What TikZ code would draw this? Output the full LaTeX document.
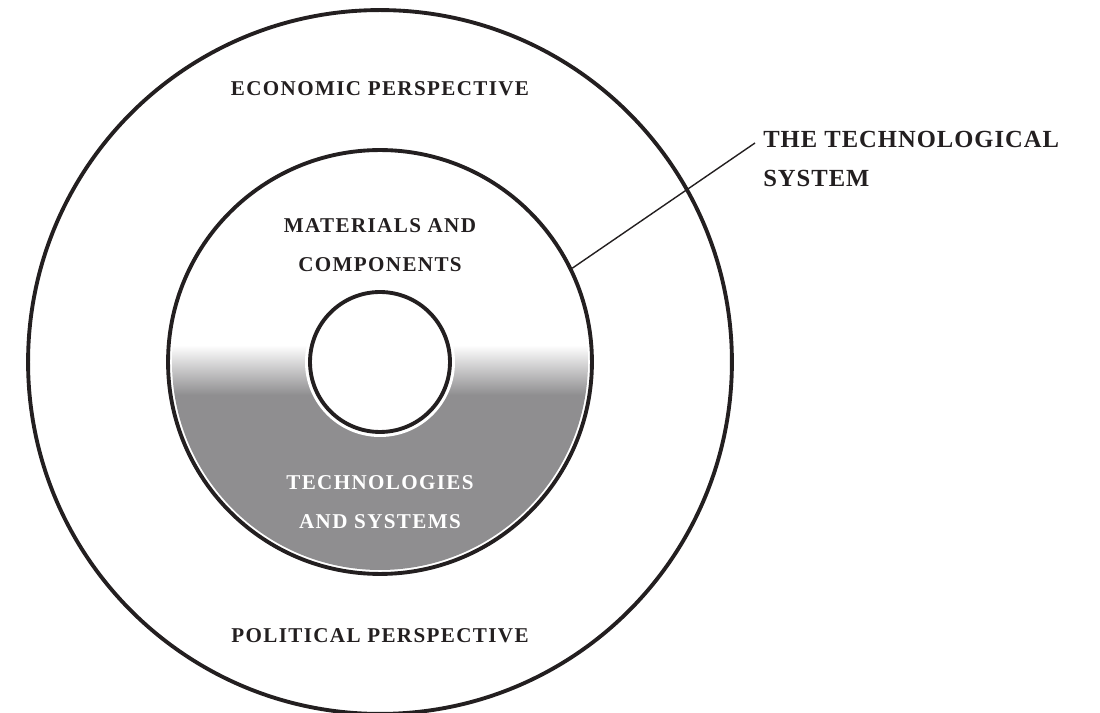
\documentclass[tikz,border=0pt]{standalone}
\usepackage{fontspec}
\setmainfont{Liberation Serif}
\newfontfamily\capsfont[LetterSpace=6.5]{Liberation Serif}
\newfontfamily\labelfont[LetterSpace=4]{Liberation Serif}
\usepackage{tikz}

\definecolor{inkblack}{RGB}{35,31,32}
\definecolor{discgrey}{RGB}{143,142,144}

\begin{document}
\begin{tikzpicture}[x=0.02cm, y=0.02cm,
  every ring/.style={circle, draw=inkblack, line width=2.2pt, inner sep=0pt},
  caps/.style={font=\capsfont\bfseries\fontsize{12}{22.7}\selectfont,
    text=inkblack, align=center, anchor=base},
  big caps/.style={font=\labelfont\bfseries\fontsize{14}{22.7}\selectfont,
    text=inkblack, align=left, anchor=base west, inner sep=0pt}]

\useasboundingbox (-380,-351) rectangle (720,362);

% grey lower half of the middle disc
\begin{scope}
  \clip (0,0) circle (208);
  \fill [discgrey] (-210,-210) rectangle (210,-33);
  \shade [top color=white, bottom color=discgrey] (-210,-33) rectangle (210,17);
\end{scope}
\fill [white] (0,0) circle (75);

\foreach \m/\d in {outer/14.08cm, middle/8.48cm, inner/2.8cm}
  \node [every ring/.try, minimum size=\d] (\m) at (0,0) {};

% base of a two-line node sits on its last line
\node [caps] (economic) at (0,266) {ECONOMIC PERSPECTIVE};
\node [caps] (political) at (0,-281) {POLITICAL PERSPECTIVE};
\node [caps] (materials) at (0,90) {MATERIALS AND\\COMPONENTS};
\node [caps, text=white] (technologies) at (0,-167) {TECHNOLOGIES\\AND SYSTEMS};

\coordinate (tip) at (375,219);
\node [big caps] (system) at (383,175) {THE TECHNOLOGICAL\\SYSTEM};
\draw [inkblack, line width=0.8pt] (middle.26) -- (tip);

\end{tikzpicture}
\end{document}
